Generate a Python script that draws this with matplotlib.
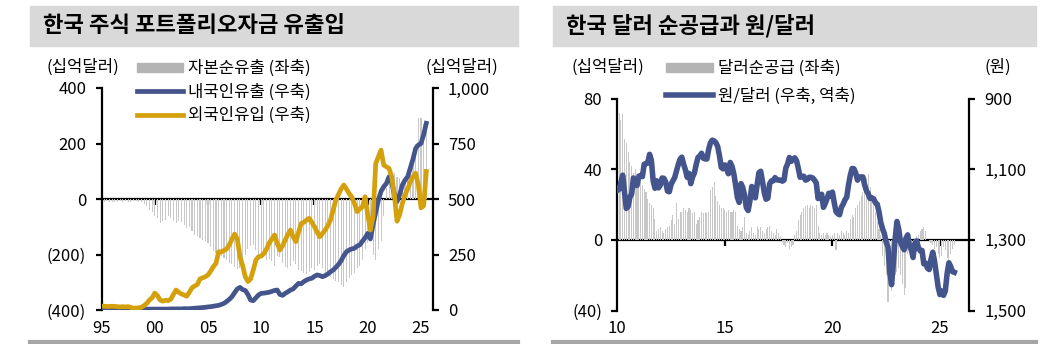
import numpy as np
import matplotlib
matplotlib.use('Agg')
import matplotlib.pyplot as plt
from matplotlib.patches import Rectangle, Patch
from matplotlib.lines import Line2D

plt.rcParams['font.family'] = ['Noto Sans CJK KR', 'DejaVu Sans']
plt.rcParams['font.size'] = 12

NAVY = '#44548c'
GOLD = '#d4a00c'
BARC = '#c8c8c8'
W, H = 1061, 344

# 주식 포트폴리오자금: 분기, 1995Q1 ~ 2025Q3 (십억달러)
q_start = 1995
resident_out = [0, 1, 1, 2, 2, 2, 3, 3, 3, 3, 3, 3, 3, 3, 3, 3,
                3, 4, 4, 4, 4, 4, 4, 4, 4, 4, 5, 5, 5, 5, 5, 6,
                6, 6, 7, 8, 9, 10, 11, 12, 14, 15, 17, 19, 21, 25, 30, 38,
                48, 60, 78, 95, 102, 92, 88, 70, 45, 42, 55, 68,
                75, 76, 78, 80, 84, 88, 90, 70, 66, 75, 82, 90,
                95, 108, 120, 118, 128, 135, 140, 143, 152, 158, 155, 150,
                155, 162, 172, 180, 192, 205, 222, 245, 262, 270, 275, 278,
                288, 293, 310, 325, 345, 320, 385, 440, 495, 535, 555, 570,
                600, 575, 520, 488, 520, 563, 585, 600, 640, 680, 728, 743,
                750, 790, 841]
foreign_in = [18, 17, 16, 16, 17, 16, 15, 14, 15, 14, 15, 12, 8, 9, 10, 12,
              20, 30, 45, 55, 76, 65, 45, 40, 44, 42, 48, 70, 90, 80, 72, 68,
              62, 80, 100, 108, 115, 140, 145, 150, 158, 175, 195, 210,
              262, 262, 268, 275, 293, 320, 342, 320, 240, 200, 150, 128,
              140, 180, 225, 240, 243, 255, 275, 302, 320, 338, 300, 270,
              290, 315, 340, 360, 330, 308, 350, 390, 395, 405, 413, 395,
              375, 350, 330, 345, 360, 380, 405, 450, 495, 520, 545, 563,
              545, 525, 510, 480, 443, 455, 465, 510, 430, 360, 420, 660,
              690, 720, 653, 645, 638, 600, 518, 400, 430, 480, 518, 545,
              578, 600, 616, 563, 460, 470, 624]
net_outflow = [-8, -10, -9, -12, -12, -11, -10, -9, -10, -9, -12, -10,
               -6, -8, -10, -12, -18, -25, -38, -48, -62, -70, -86, -80,
               -74, -62, -70, -80, -86, -78, -82, -95, -104, -100, -115, -128,
               -135, -140, -146, -150, -160, -172, -188, -195,
               -200, -206, -212, -220, -229, -235, -245, -254,
               -248, -226, -200, -180, -170, -165, -185, -200,
               -210, -200, -220, -215, -225, -240, -205, -210,
               -230, -245, -250, -240, -225, -235, -255, -260,
               -265, -270, -262, -250, -255, -240, -235, -250,
               -265, -270, -280, -290, -295, -300, -310, -318,
               -300, -285, -275, -265, -250, -240, -220, -180,
               -160, -150, -200, -220, -180, -150, -60, 40,
               90, 100, 95, 80, 75, 60, 80, 100, 120, 170, 200, 292,
               292, 270, 256]

# 달러순공급(십억달러)과 원/달러: 월별, 2010.01 ~ 2025.09
m_start = 2010
usd_supply = [70, 72, 68, 71, 57, 55, 50, 44, 42, 38, 40, 35,
              35, 33, 31, 29, 27, 23, 21, 20, 18, 12, 5, 6,
              7, 5, 4, 6, 7, 8, 11, 14, 9, 21, 12, 16,
              16, 18, 17, 16, 18, 17, 15, 16, 9, 11, 13, 16,
              15, 16, 15, 16, 28, 30, 33, 25, 22, 20, 18, 18,
              17, 16, 17, 16, 16, 17, 16, 8, 6, 5, 7, 13,
              4, 3, 5, 7, 4, 3, 8, 6, 7, 5, 4, 6,
              7, 8, 5, 4, 3, 6, 4, 2, -1, -3, -4, -2,
              -5, -4, -3, 3, 5, 11, 14, 16, 18, 19, 20, 18,
              20, 19, 18, 20, 8, 4, 3, 4, 3, 4, 3, 2,
              3, 4, -6, 4, 3, 5, 4, 3, 5, 4, 12, 14,
              13, 18, 20, 22, 25, 27, 30, 35, 37, 30, 25, 20,
              16, 10, 6, 3, -9, -15, -20, -35, -26, -29, -24, -20,
              -18, -16, -20, -25, -31, -27, -8, -6, -5, -7, 1, 2,
              3, 5, 6, 7, 5, 0, -1, -2, -3, -5, -4, -8,
              -10, -9, -4, -6, -10, -12, -8, -5, -3]
krw_usd = [1160, 1157, 1137, 1117, 1164, 1211, 1206, 1180, 1170, 1125, 1134, 1146,
           1120, 1118, 1121, 1086, 1084, 1083, 1058, 1075, 1133, 1154, 1133, 1153,
           1145, 1125, 1126, 1136, 1162, 1164, 1143, 1133, 1124, 1106, 1087, 1072,
           1066, 1086, 1102, 1123, 1112, 1141, 1122, 1111, 1087, 1067, 1063, 1055,
           1069, 1071, 1071, 1043, 1025, 1018, 1020, 1025, 1036, 1062, 1095, 1099,
           1088, 1098, 1113, 1081, 1092, 1113, 1145, 1180, 1194, 1141, 1152, 1174,
           1209, 1217, 1189, 1149, 1174, 1181, 1144, 1110, 1106, 1135, 1167, 1185,
           1182, 1141, 1133, 1133, 1124, 1130, 1131, 1131, 1134, 1131, 1097, 1085,
           1067, 1078, 1072, 1068, 1076, 1098, 1123, 1121, 1120, 1131, 1129, 1123,
           1123, 1125, 1131, 1139, 1183, 1176, 1171, 1208, 1197, 1184, 1168, 1176,
           1165, 1194, 1220, 1226, 1229, 1208, 1199, 1187, 1179, 1144, 1117, 1098,
           1099, 1111, 1131, 1122, 1122, 1122, 1145, 1161, 1170, 1183, 1181, 1184,
           1195, 1199, 1221, 1251, 1269, 1283, 1307, 1320, 1391, 1427, 1365, 1297,
           1248, 1270, 1306, 1319, 1328, 1296, 1286, 1318, 1328, 1350, 1310, 1303,
           1323, 1331, 1330, 1368, 1366, 1380, 1384, 1355, 1335, 1361, 1397, 1434,
           1455, 1445, 1457, 1444, 1395, 1365, 1376, 1390, 1392]

xq = q_start + np.arange(len(resident_out)) / 4
xm = m_start + np.arange(len(krw_usd)) / 12


def px_axes(x0, y0, x1, y1):
    return fig.add_axes([x0 / W, 1 - y1 / H, (x1 - x0) / W, (y1 - y0) / H])


def style(ax, axr, years, ylabels, rlabels, zero_pos):
    for s in ['top', 'bottom', 'right']:
        ax.spines[s].set_visible(False)
    for s in ['top', 'bottom', 'left']:
        axr.spines[s].set_visible(False)
    ax.spines['left'].set_linewidth(1.6)
    axr.spines['right'].set_linewidth(1.6)
    ax.tick_params(axis='y', direction='out', length=4, width=1.6, pad=7)
    axr.tick_params(axis='y', direction='out', length=4, width=1.6, pad=7)
    ax.set_xticks(years)
    ax.set_xticklabels(['%02d' % (y % 100) for y in years])
    ax.tick_params(axis='x', length=0, pad=7)
    # 0 기준선과 그 위의 눈금
    sec = ax.secondary_xaxis(zero_pos)
    sec.set_alignment('bottom')
    sec.set_xticks(years[1:])
    sec.tick_params(direction='out', length=4, width=1.6, labelbottom=False)
    sec.spines['bottom'].set_linewidth(1.6)
    ax.set_yticklabels(ylabels)
    axr.set_yticklabels(rlabels)


fig = plt.figure(figsize=(W / 100, H / 100), dpi=100)

# 제목 띠와 아래 구분선
for x0, x1, title in [(29.6, 518, '한국 주식 포트폴리오자금 유출입'),
                      (553, 1036, '한국 달러 순공급과 원/달러')]:
    fig.patches.append(Rectangle((x0 / W, 1 - 46 / H), (x1 - x0) / W, 40 / H,
                                 transform=fig.transFigure, color='#d9d9d9', zorder=0))
    fig.text((x0 + 13) / W, 1 - 26 / H, title, fontsize=16, fontweight='bold', va='center')
    fig.add_artist(Line2D([x0 / W, x1 / W], [1 - 341.5 / H] * 2, color='#a6a6a6', lw=3))

# 왼쪽: 주식 포트폴리오자금
ax1 = px_axes(101.5, 88, 432.7, 310)
ax2 = ax1.twinx()
ax1.bar(xq, net_outflow, width=0.1, color=BARC, linewidth=0)
ax2.plot(xq, resident_out, color=NAVY, lw=3.4)
ax2.plot(xq, foreign_in, color=GOLD, lw=3.4)
ax1.set_xlim(1995, 2026.1)
ax1.set_ylim(-400, 400)
ax2.set_ylim(0, 1000)
ax1.set_yticks([-400, -200, 0, 200, 400])
ax2.set_yticks([0, 250, 500, 750, 1000])
style(ax1, ax2, list(range(1995, 2026, 5)),
      ['(400)', '(200)', '0', '200', '400'],
      ['0', '250', '500', '750', '1,000'], 0.5)
fig.text(82.5 / W, 1 - 67 / H, '(십억달러)', ha='center', va='center')
fig.text(462 / W, 1 - 67 / H, '(십억달러)', ha='center', va='center')
h1 = [Patch(color='#b4b4b4'), Line2D([], [], color=NAVY, lw=3.4), Line2D([], [], color=GOLD, lw=3.4)]
ax2.legend(h1, ['자본순유출 (좌축)', '내국인유출 (우축)', '외국인유입 (우축)'],
           loc='upper left', bbox_to_anchor=(136.5 / W, 1 - 60 / H), bbox_transform=fig.transFigure,
           frameon=False, handlelength=2.8, handleheight=0.5, handletextpad=0.3,
           labelspacing=0.38, borderpad=0, borderaxespad=0)

# 오른쪽: 달러순공급과 원/달러
ax3 = px_axes(617.3, 98.5, 969, 310.5)
ax4 = ax3.twinx()
ax3.bar(xm, usd_supply, width=0.05, color=BARC, linewidth=0)
ax4.plot(xm, krw_usd, color=NAVY, lw=4)
ax3.set_xlim(2010, 2026.35)
ax3.set_ylim(-40, 80)
ax4.set_ylim(1500, 900)
ax3.set_yticks([-40, 0, 40, 80])
ax4.set_yticks([1500, 1300, 1100, 900])
style(ax3, ax4, [2010, 2015, 2020, 2025],
      ['(40)', '0', '40', '80'],
      ['1,500', '1,300', '1,100', '900'], 1 / 3)
fig.text(608 / W, 1 - 67 / H, '(십억달러)', ha='center', va='center')
fig.text(998 / W, 1 - 67 / H, '(원)', ha='center', va='center')
h2 = [Patch(color='#b4b4b4'), Line2D([], [], color=NAVY, lw=4)]
ax4.legend(h2, ['달러순공급 (좌축)', '원/달러 (우축, 역축)'],
           loc='upper left', bbox_to_anchor=(666 / W, 1 - 60 / H), bbox_transform=fig.transFigure,
           frameon=False, handlelength=2.8, handleheight=0.5, handletextpad=0.3,
           labelspacing=0.6, borderpad=0, borderaxespad=0)

fig.savefig('out.png', dpi=100)
